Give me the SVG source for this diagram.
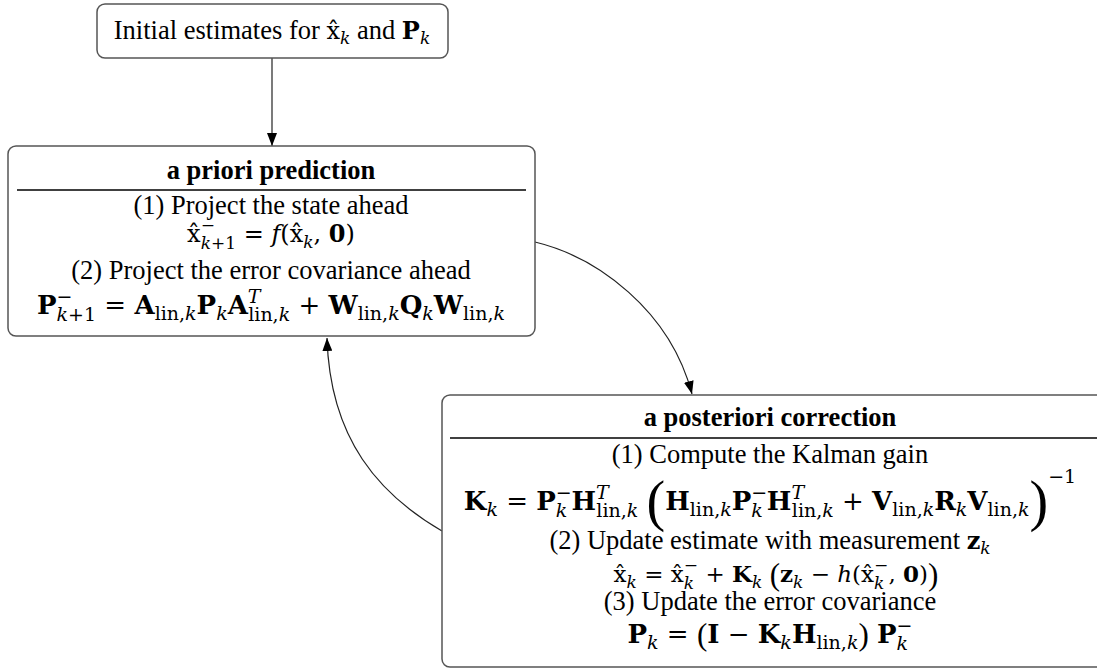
<svg xmlns="http://www.w3.org/2000/svg" width="1097" height="672" viewBox="0 0 1097 672">
<style>
.box{fill:#fff;stroke:#555;stroke-width:1.5}
.div{stroke:#000;stroke-width:1.3}
.t{font-family:"Liberation Serif","Times New Roman",serif;font-size:26.5px;fill:#000;text-anchor:middle}
.q{font-family:"DejaVu Serif",serif;font-size:24px}
.q3{font-family:"DejaVu Serif",serif;font-size:23px}
.q2{font-family:"DejaVu Serif",serif;font-size:26px}
.qs{font-size:17px}
.s2{font-size:19px}
.b{font-weight:bold}
.i{font-style:italic}
.m{font-family:"Liberation Serif",serif;font-size:31px}
.big{font-family:"Liberation Serif",serif;font-size:56px;font-weight:normal}
.con{fill:none;stroke:#222;stroke-width:1.2}
</style>
<defs>
<marker id="ah" viewBox="0 0 13 10" refX="13" refY="5" markerWidth="13" markerHeight="10" markerUnits="userSpaceOnUse" orient="auto"><path d="M0,0 L13,5 L0,10 z" fill="#000"/></marker>
</defs>
<rect width="1097" height="672" fill="#fff"/>
<g id="connectors">
<line class="con" x1="272" y1="58" x2="272" y2="146" marker-end="url(#ah)"/>
<path class="con" d="M535,242 C597,257 670,310 692,394" marker-end="url(#ah)"/>
<path class="con" d="M442,531 C380,495 330,440 327,338" marker-end="url(#ah)"/>
</g>
<g id="init">
<rect class="box" x="97" y="4" width="351" height="54" rx="8"/>
<text class="t" x="272" y="39">Initial estimates for <tspan class="q">x̂</tspan><tspan class="q qs i" dy="5">k</tspan><tspan dy="-5"> and </tspan><tspan class="q b">P</tspan><tspan class="q qs i" dy="5">k</tspan></text>
</g>
<g id="prior">
<rect class="box" x="8" y="146" width="527" height="190" rx="8"/>
<text class="t b" x="271" y="179">a priori prediction</text>
<line class="div" x1="17" y1="190" x2="526" y2="190"/>
<text class="t" x="271" y="214">(1) Project the state ahead</text>
<text class="t q" x="271" y="242">x̂<tspan class="qs" dy="-11">−</tspan><tspan class="qs" dx="-14.2" dy="18"><tspan class="i">k</tspan>+1</tspan><tspan dy="-7"> = </tspan><tspan class="i">f</tspan>(x̂<tspan class="qs i" dy="6">k</tspan><tspan dy="-6">, </tspan><tspan class="b">0</tspan>)</text>
<text class="t" x="271" y="279">(2) Project the error covariance ahead</text>
<text class="t q2" x="271" y="314"><tspan class="b">P</tspan><tspan class="s2" dy="-11">−</tspan><tspan class="s2" dx="-15.9" dy="18"><tspan class="i">k</tspan>+1</tspan><tspan dy="-7"> = </tspan><tspan class="b">A</tspan><tspan class="s2" dy="6">lin,<tspan class="i">k</tspan></tspan><tspan class="b" dy="-6">P</tspan><tspan class="s2 i" dy="6">k</tspan><tspan class="b" dy="-6">A</tspan><tspan class="s2 i" dy="-11">T</tspan><tspan class="s2" dx="-12.3" dy="18">lin,<tspan class="i">k</tspan></tspan><tspan dy="-7"> + </tspan><tspan class="b">W</tspan><tspan class="s2" dy="6">lin,<tspan class="i">k</tspan></tspan><tspan class="b" dy="-6">Q</tspan><tspan class="s2 i" dy="6">k</tspan><tspan class="b" dy="-6">W</tspan><tspan class="s2" dy="6">lin,<tspan class="i">k</tspan></tspan></text>
</g>
<g id="posterior">
<rect class="box" x="442" y="395" width="662" height="272" rx="8"/>
<text class="t b" x="770" y="426">a posteriori correction</text>
<line class="div" x1="450" y1="438" x2="1097" y2="438"/>
<text class="t" x="770" y="463">(1) Compute the Kalman gain</text>
<text class="t q2" x="770" y="510"><tspan class="b">K</tspan><tspan class="s2 i" dy="6">k</tspan><tspan dy="-6"> = </tspan><tspan class="b">P</tspan><tspan class="s2" dy="-11">−</tspan><tspan class="s2 i" dx="-15.9" dy="18">k</tspan><tspan class="b" dx="4" dy="-7">H</tspan><tspan class="s2 i" dy="-11">T</tspan><tspan class="s2" dx="-12.3" dy="18">lin,<tspan class="i">k</tspan></tspan><tspan dy="-7"> </tspan><tspan class="big" dy="10">(</tspan><tspan class="b" dy="-10">H</tspan><tspan class="s2" dy="6">lin,<tspan class="i">k</tspan></tspan><tspan class="b" dy="-6">P</tspan><tspan class="s2" dy="-11">−</tspan><tspan class="s2 i" dx="-15.9" dy="18">k</tspan><tspan class="b" dx="4" dy="-7">H</tspan><tspan class="s2 i" dy="-11">T</tspan><tspan class="s2" dx="-12.3" dy="18">lin,<tspan class="i">k</tspan></tspan><tspan dy="-7"> + </tspan><tspan class="b">V</tspan><tspan class="s2" dy="6">lin,<tspan class="i">k</tspan></tspan><tspan class="b" dy="-6">R</tspan><tspan class="s2 i" dy="6">k</tspan><tspan class="b" dy="-6">V</tspan><tspan class="s2" dy="6">lin,<tspan class="i">k</tspan></tspan><tspan class="big" dy="4">)</tspan><tspan class="s2" dy="-37">−1</tspan></text>
<text class="t" x="770" y="549">(2) Update estimate with measurement <tspan class="q b">z</tspan><tspan class="q qs i" dy="5">k</tspan></text>
<text class="t q3" x="776" y="582">x̂<tspan class="qs i" dy="6">k</tspan><tspan dy="-6"> = x̂</tspan><tspan class="qs" dy="-11">−</tspan><tspan class="qs i" dx="-14.2" dy="18">k</tspan><tspan dx="4" dy="-7"> + </tspan><tspan class="b">K</tspan><tspan class="qs i" dy="6">k</tspan><tspan dy="-6"> </tspan><tspan class="m" dy="3">(</tspan><tspan class="b" dy="-3">z</tspan><tspan class="qs i" dy="6">k</tspan><tspan dy="-6"> − </tspan><tspan class="i">h</tspan>(x̂<tspan class="qs" dy="-11">−</tspan><tspan class="qs i" dx="-14.2" dy="18">k</tspan><tspan dx="4" dy="-7">, </tspan><tspan class="b">0</tspan>)<tspan class="m" dy="3">)</tspan></text>
<text class="t" x="770" y="610">(3) Update the error covariance</text>
<text class="t q2" x="770" y="643"><tspan class="b">P</tspan><tspan class="s2 i" dy="6">k</tspan><tspan dy="-6"> = </tspan><tspan class="m" dy="2">(</tspan><tspan class="b" dy="-2">I</tspan> − <tspan class="b">K</tspan><tspan class="s2 i" dy="6">k</tspan><tspan class="b" dy="-6">H</tspan><tspan class="s2" dy="6">lin,<tspan class="i">k</tspan></tspan><tspan class="m" dy="-4">)</tspan><tspan dy="-2"> </tspan><tspan class="b">P</tspan><tspan class="s2" dy="-11">−</tspan><tspan class="s2 i" dx="-15.9" dy="18">k</tspan></text>
</g>
</svg>
